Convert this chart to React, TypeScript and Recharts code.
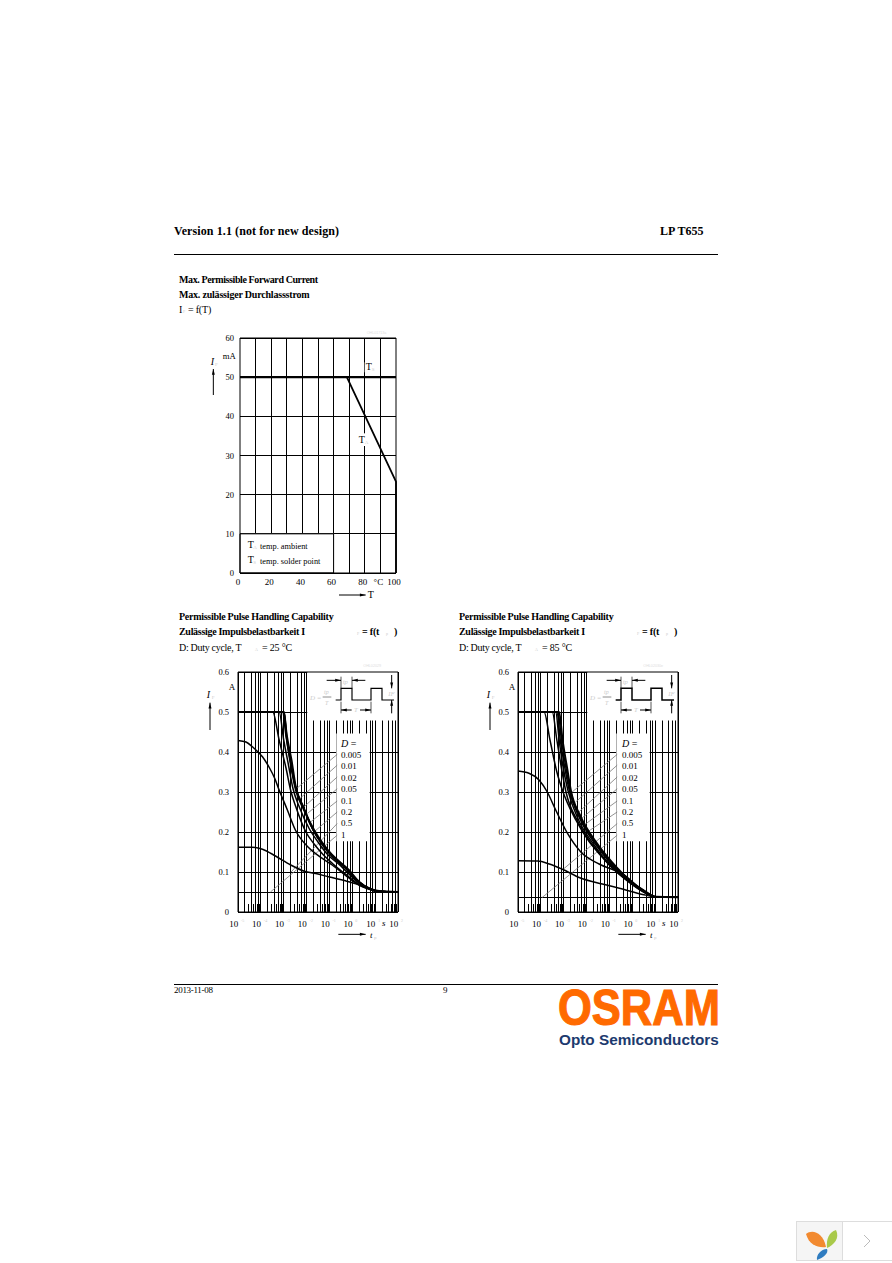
import React from 'react';
import { LineChart, Line, XAxis, YAxis, ReferenceLine, ReferenceArea } from 'recharts';

const SERIF = '"Liberation Serif", serif';
const SANS = '"Liberation Sans", sans-serif';

// forward current chart
const tempGrid = [10, 20, 30, 40, 50, 60, 70, 80, 90];
const tempTicks = [0, 20, 40, 60, 80, 90, 100];
const currentTicks = [0, 10, 20, 30, 40, 50, 60];
const tsLine = [{ x: 0, y: 50 }, { x: 100, y: 50 }];
const taLine = [{ x: 0, y: 50 }, { x: 68.5, y: 50 }, { x: 100, y: 23.3 }, { x: 100, y: 0 }];

// pulse charts
const decades = [1e-5, 1e-4, 1e-3, 1e-2, 1e-1, 1, 10, 100];
const exponents = ['-5', '-4', '-3', '-2', '-1', '0', '1', '2'];
const fullMultiples = [2, 4, 6, 8];
const shortMultiples = [3, 5, 7, 9];
const pulseTicks = [0, 0.1, 0.2, 0.3, 0.4, 0.5, 0.6];
const dutyLabels = ['0.005', '0.01', '0.02', '0.05', '0.1', '0.2', '0.5', '1'];
const leaderHighLogT = -0.66;
const leaderHighI = [0.394, 0.367, 0.3375, 0.308, 0.2775, 0.25, 0.221, 0.192];

// Ta = 25 C, log10(t) and I
const logT25 = {
  d005: [-5, -2.98, -2.88, -2.71, -2.47, -2.11, -1.67, -1.3, -0.88, -0.15, 0.29, 0.8, 1.17, 2],
  d01: [-5, -2.99, -2.88, -2.68, -2.47, -2.11, -1.67, -1.3, -0.88, -0.15, 0.29, 0.8, 1.17, 2],
  d02: [-5, -3, -2.85, -2.65, -2.47, -2.11, -1.67, -1.3, -0.88, -0.15, 0.29, 0.8, 1.17, 2],
  d05: [-5, -3.05, -2.9, -2.7, -2.5, -2.2, -1.85, -1.5, -1.1, -0.5, -0.15, 0.29, 0.8, 1.17, 2],
  d1: [-5, -3.2, -3, -2.8, -2.6, -2.3, -1.9, -1.5, -1.1, -0.5, -0.15, 0.29, 0.8, 1.17, 2],
  d2: [-5, -3.48, -3.2, -2.9, -2.7, -2.47, -2.03, -1.67, -1.3, -0.88, -0.15, 0.29, 0.8, 1.17, 2],
  d5: [-5, -4.65, -4.37, -3.93, -3.62, -3.4, -3.2, -2.84, -2.49, -1.89, -1.31, -0.88, -0.15, 0.29, 0.72, 1.17, 2],
  d100: [-5, -4.4, -3.93, -3.36, -2.69, -2.1, -1.6, -1, -0.3, 0.3, 0.8, 1.1, 2],
};
const current25 = {
  d005: [0.5, 0.5, 0.44, 0.375, 0.305, 0.255, 0.205, 0.1725, 0.1425, 0.105, 0.076, 0.0575, 0.0525, 0.05],
  d01: [0.5, 0.5, 0.44, 0.375, 0.31, 0.258, 0.2, 0.17, 0.14, 0.103, 0.076, 0.0575, 0.052, 0.05],
  d02: [0.5, 0.5, 0.44, 0.38, 0.315, 0.26, 0.2, 0.167, 0.138, 0.102, 0.075, 0.057, 0.052, 0.05],
  d05: [0.5, 0.5, 0.44, 0.375, 0.315, 0.27, 0.22, 0.185, 0.155, 0.122, 0.1, 0.074, 0.057, 0.052, 0.05],
  d1: [0.5, 0.5, 0.43, 0.37, 0.31, 0.26, 0.21, 0.175, 0.145, 0.115, 0.095, 0.072, 0.056, 0.051, 0.05],
  d2: [0.5, 0.5, 0.43, 0.36, 0.305, 0.263, 0.2, 0.17, 0.145, 0.122, 0.088, 0.069, 0.056, 0.051, 0.05],
  d5: [0.429, 0.425, 0.413, 0.388, 0.36, 0.335, 0.305, 0.255, 0.205, 0.16, 0.134, 0.1175, 0.085, 0.0675, 0.0575, 0.051, 0.05],
  d100: [0.162, 0.162, 0.157, 0.14, 0.1175, 0.102, 0.096, 0.0875, 0.078, 0.068, 0.0565, 0.051, 0.05],
};
const leaderLow25LogT = [-2.41, -2.27, -2.12, -1.97, -1.83, -1.68, -2.68, -3.58];
const leaderLow25I = [0.31, 0.285, 0.2625, 0.246, 0.225, 0.2, 0.1, 0.05];

// Ta = 85 C
const logT85 = {
  d005: [-5, -3.2, -3.05, -2.85, -2.69, -2.25, -1.6, -0.86, -0.13, 0.58, 1.02, 2],
  d01: [-5, -3.25, -3.1, -2.9, -2.72, -2.27, -1.62, -0.87, -0.14, 0.58, 1.02, 2],
  d02: [-5, -3.3, -3.15, -2.95, -2.76, -2.3, -1.65, -0.9, -0.16, 0.55, 1.02, 2],
  d05: [-5, -3.35, -3.2, -3.02, -2.82, -2.35, -1.7, -0.95, -0.2, 0.52, 1.02, 2],
  d1: [-5, -3.5, -3.3, -3.1, -2.9, -2.4, -1.8, -1.05, -0.25, 0.5, 1.02, 2],
  d2: [-5, -3.86, -3.6, -3.3, -3.06, -2.47, -1.89, -1.16, -0.28, 0.45, 1.02, 2],
  d5: [-5, -4.52, -4.08, -3.72, -3.35, -2.84, -2.25, -1.45, -0.43, 0.45, 1.02, 2],
  d100: [-5, -4.14, -3.63, -3.06, -2.27, -1.31, -0.43, 0.45, 1.02, 2],
};
const current85 = {
  d005: [0.5, 0.5, 0.43, 0.36, 0.305, 0.238, 0.176, 0.1225, 0.08, 0.051, 0.038, 0.037],
  d01: [0.5, 0.5, 0.43, 0.36, 0.305, 0.236, 0.174, 0.12, 0.079, 0.05, 0.038, 0.037],
  d02: [0.5, 0.5, 0.43, 0.36, 0.305, 0.234, 0.172, 0.118, 0.078, 0.05, 0.038, 0.037],
  d05: [0.5, 0.5, 0.43, 0.36, 0.305, 0.23, 0.17, 0.115, 0.077, 0.049, 0.038, 0.037],
  d1: [0.5, 0.5, 0.43, 0.36, 0.3, 0.228, 0.172, 0.12, 0.08, 0.05, 0.038, 0.037],
  d2: [0.5, 0.5, 0.43, 0.35, 0.305, 0.23, 0.176, 0.13, 0.085, 0.055, 0.038, 0.037],
  d5: [0.3525, 0.347, 0.33, 0.3, 0.255, 0.197, 0.15, 0.12, 0.095, 0.055, 0.038, 0.037],
  d100: [0.128, 0.1275, 0.12, 0.107, 0.085, 0.07, 0.0575, 0.044, 0.038, 0.037],
};
const leaderLow85LogT = [-2.63, -2.48, -2.34, -2.24, -2.12, -1.97, -3.0, -3.95];
const leaderLow85I = [0.3, 0.275, 0.25, 0.233, 0.217, 0.2, 0.108, 0.036];

const curveKeys = ['d100', 'd5', 'd2', 'd1', 'd05', 'd02', 'd01', 'd005'];

const toPoints = (logs: number[], vals: number[]) =>
  logs.map((l, i) => ({ t: Math.pow(10, l), i: vals[i] }));

const DecadeTick = ({ x, y, payload, index }: any) => (
  <g>
    <text x={x - 4.3} y={y + 7} textAnchor="middle" fontSize={9} fontFamily={SERIF} fill="#000">
      {Number.isFinite(payload.value) ? '10' : ''}
    </text>
    <text x={x + 3} y={y + 2} fontSize={4} fontFamily={SERIF} fill="#ccc">
      {exponents[index]}
    </text>
  </g>
);

const TempTick = ({ x, y, payload }: any) => (
  <text x={x - 2} y={y + 4} textAnchor="middle" fontSize={9} fontFamily={SERIF} fill="#000">
    {payload.value === 90 ? '°C' : payload.value}
  </text>
);

const PulseChart = ({ logT, cur, lowT, lowI, band, left }: any) => {
  const gridFull: number[] = [];
  const gridShort: number[] = [];
  decades.forEach((d) => {
    if (d < 100) {
      fullMultiples.forEach((m) => gridFull.push(d * m));
      shortMultiples.forEach((m) => gridShort.push(d * m));
    }
  });
  return (
    <div style={{ position: 'absolute', left, top: 662 }}>
      <LineChart width={214} height={280} margin={{ top: 10, right: 6, bottom: 5, left: 0 }}>
        <XAxis
          dataKey="t"
          type="number"
          scale="log"
          domain={[1e-5, 100]}
          ticks={decades}
          allowDataOverflow
          axisLine={false}
          tickLine={false}
          height={25}
          interval={0}
          tick={<DecadeTick />}
        />
        <YAxis
          type="number"
          domain={[0, 0.6]}
          ticks={pulseTicks}
          width={48}
          axisLine={false}
          tickLine={false}
          tickMargin={3}
          interval={0}
          tickFormatter={(v: number) => (v === 0 ? '0' : v.toFixed(1))}
          tick={{ fontSize: 8.5, fontFamily: SERIF, fill: '#000' }}
        />
        {decades.map((d) => (
          <ReferenceLine key={d} x={d} stroke="#000" strokeWidth={1} shapeRendering="crispEdges" />
        ))}
        {gridFull.map((d) => (
          <ReferenceLine key={d} x={d} stroke="#000" strokeWidth={1} shapeRendering="crispEdges" />
        ))}
        {gridShort.map((d) => (
          <ReferenceLine key={d} segment={[{ x: d, y: 0 }, { x: d, y: 0.02 }]} stroke="#000" strokeWidth={1} shapeRendering="crispEdges" />
        ))}
        {pulseTicks.map((v) => (
          <ReferenceLine key={v} y={v} stroke="#000" strokeWidth={1} shapeRendering="crispEdges" />
        ))}
        <ReferenceLine y={band} stroke="#000" strokeWidth={1} shapeRendering="crispEdges" />
        <ReferenceArea zIndex={450} x1={0.0107} x2={100} y1={0.479} y2={0.6} fill="#fff" fillOpacity={1} stroke="none" />
        <ReferenceArea zIndex={450} x1={0.2} x2={5.75} y1={0.177} y2={0.446} fill="#fff" fillOpacity={1} stroke="none" />
        <ReferenceArea zIndex={460} x1={1e-5} x2={100} y1={0} y2={0.6} fill="none" stroke="#000" strokeWidth={1} />
        {lowT.map((l: number, k: number) => (
          <ReferenceLine
            key={k}
            zIndex={470}
            segment={[
              { x: Math.pow(10, l), y: lowI[k] },
              { x: Math.pow(10, leaderHighLogT), y: leaderHighI[k] },
            ]}
            stroke="#777"
            strokeWidth={0.8}
          />
        ))}
        {curveKeys.map((c) => (
          <Line
            key={c}
            zIndex={480}
            data={toPoints(logT[c], cur[c])}
            dataKey="i"
            type="monotone"
            stroke="#000"
            strokeWidth={c === 'd005' ? 1.9 : 1.5}
            dot={false}
            isAnimationActive={false}
          />
        ))}
      </LineChart>
    </div>
  );
};

// svg laid over a chart, in the 3x units of the crops
const Overlay = ({ left, top, w, h, children }: any) => (
  <svg
    style={{ position: 'absolute', left, top, pointerEvents: 'none' }}
    width={w}
    height={h}
    viewBox={`0 0 ${w * 3} ${h * 3}`}
  >
    {children}
  </svg>
);

const Arrow = ({ x1, y1, x2, y2 }: any) => {
  const a = Math.atan2(y2 - y1, x2 - x1);
  const p = (r: number, d: number) =>
    `${x2 + r * Math.cos(a + d)},${y2 + r * Math.sin(a + d)}`;
  return (
    <g>
      <line x1={x1} y1={y1} x2={x2} y2={y2} stroke="#000" strokeWidth={3} />
      <polygon points={`${x2},${y2} ${p(18, Math.PI - 0.25)} ${p(18, Math.PI + 0.25)}`} fill="#000" />
    </g>
  );
};

const PulseOverlay = ({ left, labelX, id, heavy }: any) => {
  const txt = { fontFamily: SERIF, fontSize: 27, fill: '#000' };
  const pale = { fontFamily: SERIF, fontSize: 15, fill: '#ccc' };
  return (
    <Overlay left={left} top={605} w={240} h={340}>
      <text x={580} y={186} fontFamily={SANS} fontSize={11} fill="#ddd">{id}</text>
      <text x={176} y={255} {...txt}>A</text>
      <text x={110} y={280} {...txt} fontStyle="italic" fontSize={30}>I</text>
      <text x={125} y={283} {...pale}>F</text>
      <Arrow x1={120} y1={375} x2={120} y2={293} />
      <text x={636} y={963} {...txt} fontStyle="italic">s</text>
      <Arrow x1={505} y1={988} x2={587} y2={988} />
      <text x={600} y={998} {...txt} fontStyle="italic">t</text>
      <text x={612} y={1001} {...pale}>p</text>
      <text x={420} y={284} {...pale} fontSize={21} fontStyle="italic">D =</text>
      <text x={462} y={268} {...pale} fontSize={18} fontStyle="italic">tp</text>
      <line x1={458} y1={276} x2={484} y2={276} stroke="#555" strokeWidth={2} />
      <text x={465} y={300} {...pale} fontSize={18} fontStyle="italic">T</text>
      <path
        d="M497 285H513V250H546V285H603V250H636V285H672"
        fill="none"
        stroke="#000"
        strokeWidth={heavy ? 4.5 : 3.5}
      />
      <line x1={513} y1={215} x2={513} y2={250} stroke="#000" strokeWidth={2} />
      <line x1={546} y1={215} x2={546} y2={250} stroke="#000" strokeWidth={2} />
      <Arrow x1={470} y1={226} x2={513} y2={226} />
      <Arrow x1={586} y1={226} x2={546} y2={226} />
      <text x={518} y={236} {...pale} fontSize={20} fontStyle="italic">tp</text>
      <line x1={513} y1={290} x2={513} y2={325} stroke="#000" strokeWidth={2} />
      <line x1={603} y1={290} x2={603} y2={325} stroke="#000" strokeWidth={2} />
      <Arrow x1={545} y1={315} x2={513} y2={315} />
      <Arrow x1={570} y1={315} x2={603} y2={315} />
      <text x={552} y={322} {...pale} fontSize={20} fontStyle="italic">T</text>
      <Arrow x1={665} y1={210} x2={665} y2={250} />
      <Arrow x1={665} y1={325} x2={665} y2={285} />
      <text x={655} y={274} {...pale} fontSize={20} fontStyle="italic">IF</text>
      <text x={labelX} y={425} {...txt} fontSize={30}>
        <tspan fontStyle="italic">D</tspan> =
      </text>
      {dutyLabels.map((d, k) => (
        <text key={d} x={labelX} y={[459, 493, 528, 562, 597, 630, 664, 699][k]} {...txt}>{d}</text>
      ))}
    </Overlay>
  );
};

const Txt = ({ x, y, bold, size = 10, color = '#000', family = SERIF, spacing = 0, children }: any) => (
  <div
    style={{
      position: 'absolute',
      left: x,
      top: y,
      fontFamily: family,
      fontSize: size,
      fontWeight: bold ? 'bold' : 'normal',
      letterSpacing: spacing,
      color,
      whiteSpace: 'nowrap',
      lineHeight: 1,
    }}
  >
    {children}
  </div>
);

const Rule = ({ y }: any) => (
  <div style={{ position: 'absolute', left: 174, top: y, width: 544, height: 1, background: '#000' }} />
);

const PulseHeading = ({ x, temp }: any) => (
  <>
    <Txt x={x} y={612} bold spacing={-0.28}>Permissible Pulse Handling Capability</Txt>
    <Txt x={x} y={627} bold spacing={-0.3}>Zulässige Impulsbelastbarkeit I</Txt>
    <Txt x={x + 178} y={632} size={4} color="#ccc">F</Txt>
    <Txt x={x + 183} y={627} bold spacing={-0.2}>= f(t</Txt>
    <Txt x={x + 207} y={632} size={4} color="#ccc">p</Txt>
    <Txt x={x + 215} y={627} bold>)</Txt>
    <Txt x={x} y={643} spacing={-0.3}>D: Duty cycle, T</Txt>
    <Txt x={x + 76} y={648} size={4} color="#ccc">A</Txt>
    <Txt x={x + 83} y={643} spacing={-0.2}>= {temp} °C</Txt>
  </>
);

export default function App() {
  return (
    <div style={{ position: 'absolute', left: 0, top: 0, width: 892, height: 1263, background: '#fff', overflow: 'hidden' }}>
      <Txt x={174} y={225} bold size={12} spacing={0.1}>Version 1.1 (not for new design)</Txt>
      <Txt x={660} y={225} bold size={12}>LP T655</Txt>
      <Rule y={254} />

      <Txt x={179} y={275} bold spacing={-0.4}>Max. Permissible Forward Current</Txt>
      <Txt x={179} y={290} bold spacing={-0.2}>Max. zulässiger Durchlassstrom</Txt>
      <Txt x={179} y={305}>I</Txt>
      <Txt x={183} y={310} size={4} color="#ccc">F</Txt>
      <Txt x={188} y={305} spacing={-0.2}>= f(T)</Txt>

      <div style={{ position: 'absolute', left: 190, top: 330 }}>
        <LineChart width={212} height={266} margin={{ top: 8, right: 6, bottom: 3, left: 0 }}>
          <XAxis
            dataKey="x"
            type="number"
            domain={[0, 100]}
            ticks={tempTicks}
            interval={0}
            height={20}
            axisLine={false}
            tickLine={false}
            tick={<TempTick />}
          />
          <YAxis
            type="number"
            domain={[0, 60]}
            ticks={currentTicks}
            interval={0}
            width={50}
            axisLine={false}
            tickLine={false}
            tickMargin={0}
            tick={{ fontSize: 8.5, fontFamily: SERIF, fill: '#000' }}
          />
          {tempGrid.map((v) => (
            <ReferenceLine key={v} x={v} stroke="#000" strokeWidth={1} shapeRendering="crispEdges" />
          ))}
          {currentTicks.map((v) => (
            <ReferenceLine key={v} y={v} stroke="#000" strokeWidth={1} shapeRendering="crispEdges" />
          ))}
          <ReferenceArea zIndex={450} x1={0} x2={60} y1={0} y2={10} fill="#fff" fillOpacity={1} stroke="#000" strokeWidth={1} />
          <ReferenceArea zIndex={460} x1={0} x2={100} y1={0} y2={60} fill="none" stroke="#000" strokeWidth={1} />
          <Line zIndex={480} data={tsLine} dataKey="y" type="linear" stroke="#000" strokeWidth={2.2} dot={false} isAnimationActive={false} />
          <Line zIndex={480} data={taLine} dataKey="y" type="linear" stroke="#000" strokeWidth={1.8} dot={false} isAnimationActive={false} />
        </LineChart>
      </div>
      <Overlay left={170} top={265} w={260} h={345}>
        <text x={590} y={208} fontFamily={SANS} fontSize={11} fill="#ddd">OHL01713a</text>
        <text x={158} y={282} fontFamily={SERIF} fontSize={26}>mA</text>
        <text x={122} y={300} fontFamily={SERIF} fontSize={30} fontStyle="italic">I</text>
        <text x={135} y={303} fontFamily={SERIF} fontSize={15} fill="#ccc">F</text>
        <Arrow x1={130} y1={390} x2={130} y2={312} />
        <rect x={584} y={292} width={30} height={30} fill="#fff" />
        <text x={587} y={316} fontFamily={SERIF} fontSize={30}>T</text>
        <text x={605} y={319} fontFamily={SERIF} fontSize={15} fill="#ccc">S</text>
        <rect x={563} y={505} width={34} height={38} fill="#fff" />
        <text x={566} y={533} fontFamily={SERIF} fontSize={30}>T</text>
        <text x={584} y={536} fontFamily={SERIF} fontSize={15} fill="#ccc">A</text>
        <Arrow x1={507} y1={990} x2={587} y2={990} />
        <text x={593} y={1000} fontFamily={SERIF} fontSize={30}>T</text>
        <text x={233} y={850} fontFamily={SERIF} fontSize={30}>T</text>
        <text x={250} y={853} fontFamily={SERIF} fontSize={15} fill="#ccc">A</text>
        <text x={270} y={852} fontFamily={SERIF} fontSize={25}>temp. ambient</text>
        <text x={233} y={894} fontFamily={SERIF} fontSize={30}>T</text>
        <text x={250} y={897} fontFamily={SERIF} fontSize={15} fill="#ccc">S</text>
        <text x={270} y={896} fontFamily={SERIF} fontSize={25}>temp. solder point</text>
      </Overlay>

      <PulseHeading x={179} temp="25" />
      <PulseHeading x={459} temp="85" />

      <PulseChart logT={logT25} cur={current25} lowT={leaderLow25LogT} lowI={leaderLow25I} band={0.05} left={190} />
      <PulseChart logT={logT85} cur={current85} lowT={leaderLow85LogT} lowI={leaderLow85I} band={0.037} left={470} />
      <PulseOverlay left={170} labelX={513} id="OHL02029" />
      <PulseOverlay left={450} labelX={516} id="OHL02030e" heavy />

      <Rule y={984} />
      <Txt x={174} y={986} size={9} spacing={-0.3}>2013-11-08</Txt>
      <Txt x={443} y={986} size={9}>9</Txt>

      <svg style={{ position: 'absolute', left: 550, top: 970 }} width={175} height={85}>
        <text x={8} y={47} transform="scale(1 1.16)" fontFamily={SANS} fontWeight="bold" fontSize={43.5} fill="#ff6a00" stroke="#ff6a00" strokeWidth={1}>
          OSRAM
        </text>
        <text x={9} y={75} fontFamily={SANS} fontWeight="bold" fontSize={15.3} fill="#1c3a6e">
          Opto Semiconductors
        </text>
      </svg>

      <svg style={{ position: 'absolute', left: 796, top: 1221 }} width={96} height={40}>
        <rect x={0.5} y={0.5} width={46} height={39} fill="#f5f5f5" stroke="#ddd" />
        <rect x={46.5} y={0.5} width={50} height={39} fill="#fff" stroke="#ddd" />
        <path d="M10 13C16 8 27 11 30 26C22 27 13 24 10 13Z" fill="#f28a30" />
        <path d="M40 9C44 17 38 24 31 27C30 18 33 11 40 9Z" fill="#a9c94a" />
        <path d="M31 28C33 32 27 37 21 39C20 34 25 28 31 28Z" fill="#2f7cc0" />
        <path d="M68 14L74 20L68 26" fill="none" stroke="#bbb" strokeWidth={1} />
      </svg>
    </div>
  );
}
